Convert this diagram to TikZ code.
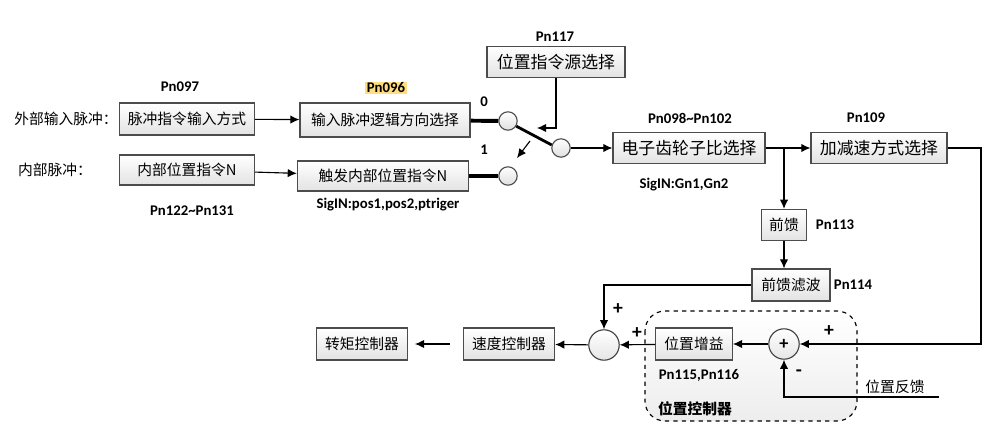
\documentclass[tikz,border=0pt]{standalone}
\usepackage{fontspec}
\setmainfont{Carlito}
\newfontfamily\cjk{Noto Sans CJK SC}
\usetikzlibrary{positioning, arrows.meta}

\definecolor{hilite}{RGB}{255,222,130}

\begin{document}
\begin{tikzpicture}[x=0.025cm, y=-0.025cm, >={Latex[length=6.5pt,width=6pt]}, thick,
	box/.style={rectangle, draw=gray!60!black, top color=white, bottom color=gray!22, inner sep=0pt, font=\cjk\fontsize{10.5}{12}\selectfont},
	bigbox/.style={box, font=\cjk\fontsize{12}{14}\selectfont},
	pin/.style={circle, draw=gray!60!black, top color=white, bottom color=gray!25, minimum size=0.46cm, inner sep=0pt},
	sum/.style={circle, draw=gray!50!black, top color=white, bottom color=gray!20, minimum size=0.76cm, inner sep=0pt, font=\bfseries\fontsize{13}{13}\selectfont},
	pn/.style={font=\bfseries\fontsize{10.5}{12}\selectfont, inner sep=1pt},
	txt/.style={font=\cjk\fontsize{10.5}{12}\selectfont, inner sep=0pt},
	sign/.style={font=\bfseries\fontsize{14}{14}\selectfont, inner sep=0pt}]

	\useasboundingbox (0,0) rectangle (1005,440);

	% position controller frame
	\draw[dashed, rounded corners=0.5cm, top color=white, bottom color=gray!14] (645,311) rectangle (857,421);
	\node[txt, font=\cjk\bfseries\fontsize{10.5}{12}\selectfont] (pctl) at (695,409) {位置控制器};

	% pulse inputs
	\node[txt] (ext) at (66,119) {外部输入脉冲：};
	\node[txt] (int) at (55,170) {内部脉冲：};
	\node[box, minimum width=3.38cm, minimum height=0.8cm] (b1) at (187,119) {脉冲指令输入方式};
	\node[box, minimum width=4.25cm, minimum height=0.85cm] (b2) at (385,120) {输入脉冲逻辑方向选择};
	\node[box, minimum width=3.38cm, minimum height=0.75cm] (b3) at (187,170) {内部位置指令N};
	\node[box, minimum width=4.28cm, minimum height=0.75cm] (b4) at (383,176) {触发内部位置指令N};

	\node[pn] (pn097) at (180,87) {Pn097};
	\node[pn, fill=hilite] (pn096) at (386,88) {Pn096};
	\node[pn] (pn122) at (192,211) {Pn122\textasciitilde Pn131};
	\node[pn] (sig1) at (388,205) {SigIN:pos1,pos2,ptriger};

	% switch
	\node[pin] (c0) at (508,121) {};
	\node[pin] (c1) at (508,176) {};
	\node[pin] (cs) at (561,148) {};
	\node[pn] (n0) at (484,102) {0};
	\node[pn] (n1) at (484,150) {1};
	\node[bigbox, minimum width=3.45cm, minimum height=0.78cm] (b5) at (556,62) {位置指令源选择};
	\node[pn] (pn117) at (555,37) {Pn117};
	\coordinate (swtip) at (537,128);
	\coordinate (a1) at (530,141);
	\coordinate (a2) at (517,158);

	% command path
	\node[bigbox, minimum width=3.8cm, minimum height=0.78cm] (b6) at (689,148) {电子齿轮子比选择};
	\node[bigbox, minimum width=3.4cm, minimum height=0.78cm] (b7) at (879,148) {加减速方式选择};
	\node[pn] (pn098) at (690,118) {Pn098\textasciitilde Pn102};
	\node[pn] (sig2) at (684,185) {SigIN:Gn1,Gn2};
	\node[pn] (pn109) at (866,118) {Pn109};

	\node[box, minimum width=1.12cm, minimum height=0.78cm] (b8) at (784,225) {前馈};
	\node[pn, right=5pt of b8] (pn113) {Pn113};
	\node[box, minimum width=1.95cm, minimum height=0.8cm] (b9) at (791,285) {前馈滤波};
	\node[pn, right=1pt of b9] (pn114) {Pn114};

	% loop
	\node[sum] (sum2) at (784,344) {+};
	\node[box, minimum width=1.92cm, minimum height=0.8cm] (b10) at (694,344) {位置增益};
	\node[pn] (pn115) at (699,375) {Pn115,Pn116};
	\node[sum] (sum1) at (604,345) {};
	\node[box, minimum width=2.28cm, minimum height=0.8cm] (b11) at (509,344) {速度控制器};
	\node[box, minimum width=2.28cm, minimum height=0.8cm] (b12) at (362,344) {转矩控制器};
	\node[txt] (fbk) at (895,387) {位置反馈};
	\coordinate (rt) at (981,344);
	\coordinate (fbin) at (939,397);
	\coordinate (g1) at (450,344);
	\coordinate (g2) at (415,344);

	\node[sign] (p1) at (618,309) {+};
	\node[sign] (p2) at (637,333) {+};
	\node[sign] (p3) at (829,331) {+};
	\node[sign] (m1) at (799,373) {-};

	\draw[->] (b1) -- (b2);
	\draw[->] (b3) -- (b4);
	\draw[line width=2.8pt] (b2) -- (c0);
	\draw[line width=2.8pt] (b4) -- (c1);
	\draw[line width=2pt] (c0.-32) -- (cs.162);
	\draw[->] (b5) |- (swtip);
	\draw[->] (a1) -- (a2);
	\draw[->] (cs) -- (b6);
	\draw[->] (b6) -- (b7);
	\draw[->] (b8 |- b6.east) -- (b8);
	\draw[->] (b8) -- (b8 |- b9.north);
	\draw[->] (b9) -| (sum1);
	\draw[->] (b7) -| (rt) -- (sum2);
	\draw[->] (fbin) -| (sum2);
	\draw[->] (sum2) -- (b10);
	\draw[->] (b10) -- (sum1);
	\draw[->] (sum1) -- (b11);
	\draw[->] (g1) -- (g2);

\end{tikzpicture}
\end{document}
